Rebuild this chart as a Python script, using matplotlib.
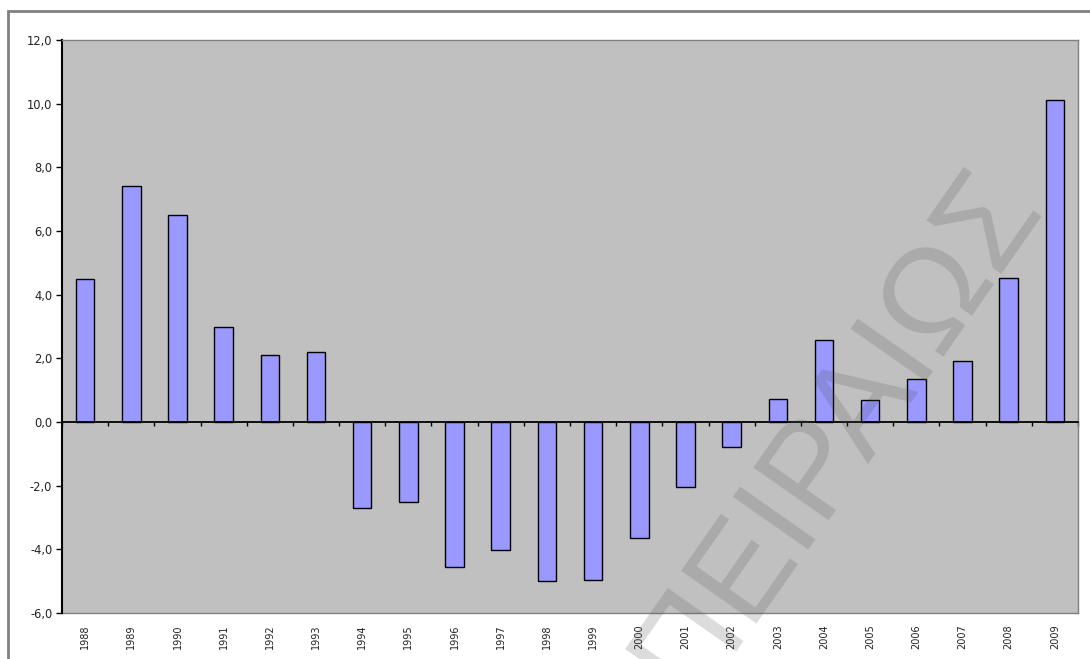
import numpy as np
import matplotlib
matplotlib.use("Agg")
import matplotlib.pyplot as plt
from matplotlib.patches import Rectangle
from matplotlib.ticker import FuncFormatter, FixedLocator

# Annual values, 1988-2009
years = [str(y) for y in range(1988, 2010)]
values = [4.5, 7.4, 6.5, 3.0, 2.1, 2.2, -2.7, -2.5, -4.56, -4.02, -5.0, -4.97,
          -3.64, -2.03, -0.78, 0.72, 2.58, 0.70, 1.36, 1.92, 4.52, 10.1]
y_ticks = [-6, -4, -2, 0, 2, 4, 6, 8, 10, 12]
watermark = "ΠΕΙΡΑΙΩΣ"

W, H, DPI = 1090, 659, 100
fig = plt.figure(figsize=(W / DPI, H / DPI), dpi=DPI, facecolor="white")
ax = fig.add_axes([62 / W, 1 - 613 / H, (1078 - 62) / W, (613 - 40) / H])
ax.set_facecolor("#C0C0C0")

x = np.arange(len(years))
ax.bar(x, values, width=0.4, color="#9999FF", edgecolor="black", linewidth=1.0, zorder=3)

ax.set_xlim(-0.5, len(years) - 0.5)
ax.set_ylim(y_ticks[0], y_ticks[-1])

# y axis
ax.yaxis.set_major_locator(FixedLocator(y_ticks))
ax.yaxis.set_major_formatter(FuncFormatter(lambda v, p: f"{v:.1f}".replace(".", ",")))
ax.tick_params(axis="y", direction="out", length=4, width=1, color="black",
               labelsize=8.3, labelcolor="#222222", pad=3)

# category axis drawn along zero with ticks between categories
ax.spines["bottom"].set_position(("data", 0))
ax.spines["bottom"].set_color("black")
ax.spines["bottom"].set_linewidth(1.3)
ax.spines["bottom"].set_zorder(4)
ax.set_xticks(np.arange(-0.5, len(years), 1.0))
ax.set_xticklabels([])
ax.tick_params(axis="x", direction="out", length=3, width=1, color="black")

ax.spines["left"].set_color("black")
ax.spines["left"].set_linewidth(1.5)
for side in ("top", "right"):
    ax.spines[side].set_color("#808080")
    ax.spines[side].set_linewidth(1.0)

# year labels below the plot area
sec = ax.secondary_xaxis(0.0)
sec.set_xticks(x)
sec.set_xticklabels(years, rotation=90, fontsize=7, color="#222222")
sec.tick_params(axis="x", length=0, pad=8)
sec.spines["bottom"].set_color("#808080")
sec.spines["bottom"].set_linewidth(1.0)

# outer chart border
fig.add_artist(Rectangle((7.5 / W, -0.2), 1.5, 1.2 - 10.7 / H,
                         transform=fig.transFigure, fill=False,
                         edgecolor="#808080", linewidth=2.0, clip_on=False))

# watermark
fig.text(866 / W, 1 - 452 / H, watermark, rotation=55, rotation_mode="anchor",
         ha="center", va="baseline", fontsize=96, family="Liberation Sans",
         color="#505050", alpha=0.2, zorder=10)

fig.savefig("out.png", dpi=DPI, facecolor="white")
